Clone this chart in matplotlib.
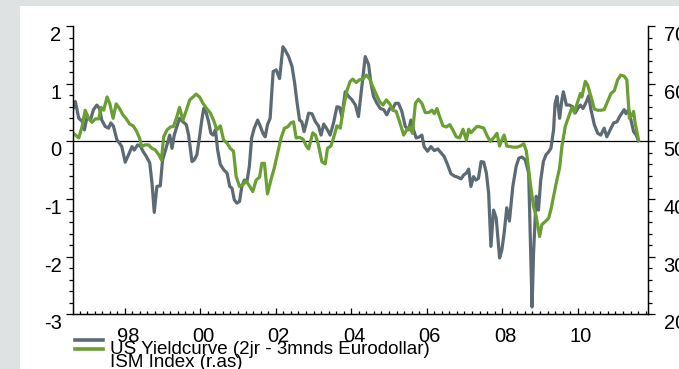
import matplotlib
matplotlib.use("Agg")
import matplotlib.pyplot as plt
from matplotlib.lines import Line2D
from matplotlib.patches import Rectangle
from matplotlib.ticker import MultipleLocator
import matplotlib.transforms as mtransforms

# US yield curve (2jr - 3mnds eurodollar), time in decimal years
yc_t = [1996.63, 1996.69, 1996.78, 1996.87, 1996.93, 1997.00, 1997.09, 1997.17, 1997.26, 1997.33,
        1997.39, 1997.48, 1997.57, 1997.63, 1997.70, 1997.79, 1997.86, 1997.92, 1998.01, 1998.10,
        1998.19, 1998.25, 1998.34, 1998.41, 1998.48, 1998.57, 1998.66, 1998.72, 1998.78, 1998.85,
        1998.94, 1999.00, 1999.07, 1999.13, 1999.19, 1999.25, 1999.31, 1999.38, 1999.45, 1999.54,
        1999.63, 1999.69, 1999.78, 1999.84, 1999.91, 1999.98, 2000.04, 2000.09, 2000.16, 2000.22,
        2000.28, 2000.34, 2000.40, 2000.46, 2000.53, 2000.62, 2000.71, 2000.78, 2000.84, 2000.90,
        2000.97, 2001.04, 2001.10, 2001.17, 2001.24, 2001.30, 2001.36, 2001.43, 2001.52, 2001.59,
        2001.66, 2001.72, 2001.78, 2001.85, 2001.93, 2002.01, 2002.10, 2002.19, 2002.25, 2002.34,
        2002.43, 2002.50, 2002.56, 2002.63, 2002.69, 2002.75, 2002.81, 2002.87, 2002.96, 2003.05,
        2003.13, 2003.20, 2003.27, 2003.36, 2003.44, 2003.53, 2003.62, 2003.69, 2003.75, 2003.84,
        2003.93, 2004.02, 2004.11, 2004.19, 2004.28, 2004.37, 2004.46, 2004.52, 2004.59, 2004.68,
        2004.77, 2004.86, 2004.94, 2005.02, 2005.10, 2005.17, 2005.25, 2005.34, 2005.43, 2005.52,
        2005.58, 2005.65, 2005.72, 2005.81, 2005.87, 2005.93, 2006.02, 2006.11, 2006.20, 2006.29,
        2006.38, 2006.46, 2006.55, 2006.64, 2006.73, 2006.82, 2006.91, 2006.98, 2007.05, 2007.11,
        2007.17, 2007.24, 2007.30, 2007.37, 2007.44, 2007.51, 2007.58, 2007.64, 2007.70, 2007.77,
        2007.84, 2007.93, 2007.99, 2008.05, 2008.12, 2008.19, 2008.28, 2008.37, 2008.44, 2008.52,
        2008.61, 2008.70, 2008.74, 2008.79, 2008.83, 2008.90, 2008.96, 2009.02, 2009.09, 2009.16,
        2009.23, 2009.29, 2009.36, 2009.40, 2009.45, 2009.52, 2009.58, 2009.62, 2009.70, 2009.78,
        2009.87, 2009.93, 2010.00, 2010.07, 2010.14, 2010.23, 2010.29, 2010.35, 2010.44, 2010.53,
        2010.61, 2010.70, 2010.77, 2010.86, 2010.95, 2011.04, 2011.11, 2011.17, 2011.23, 2011.28,
        2011.35, 2011.41, 2011.48, 2011.55, 2011.61]
yc_v = [0.57, 0.69, 0.40, 0.35, 0.20, 0.43, 0.37, 0.55, 0.63, 0.57,
        0.37, 0.26, 0.23, 0.32, 0.26, 0.03, -0.03, -0.09, -0.36, -0.23,
        -0.09, -0.15, -0.06, -0.08, -0.17, -0.26, -0.37, -0.72, -1.23, -0.78,
        -0.77, -0.32, -0.17, -0.03, 0.11, -0.12, 0.11, 0.26, 0.40, 0.34,
        0.29, 0.11, -0.35, -0.32, -0.23, 0.08, 0.37, 0.57, 0.49, 0.34,
        0.14, 0.11, 0.20, -0.15, -0.40, -0.49, -0.55, -0.78, -0.81, -1.01,
        -1.07, -1.04, -0.78, -0.67, -0.68, -0.43, 0.06, 0.23, 0.37, 0.26,
        0.14, 0.08, 0.29, 0.40, 1.21, 1.24, 1.09, 1.64, 1.58, 1.47,
        1.30, 1.01, 0.69, 0.37, 0.34, 0.17, 0.32, 0.49, 0.48, 0.34,
        0.27, 0.11, 0.30, 0.21, 0.11, 0.32, 0.60, 0.59, 0.43, 0.86,
        0.78, 0.72, 0.63, 0.43, 0.95, 1.47, 1.33, 1.01, 0.78, 0.66,
        0.57, 0.55, 0.46, 0.57, 0.57, 0.66, 0.66, 0.52, 0.26, 0.20,
        0.37, 0.20, 0.06, 0.08, 0.11, -0.09, -0.17, -0.09, -0.16, -0.13,
        -0.20, -0.26, -0.40, -0.56, -0.60, -0.62, -0.65, -0.58, -0.55, -0.48,
        -0.78, -0.61, -0.67, -0.64, -0.35, -0.36, -0.55, -0.90, -1.82, -1.19,
        -1.33, -2.02, -1.88, -1.59, -1.15, -1.38, -0.78, -0.43, -0.29, -0.27,
        -0.32, -0.55, -1.59, -2.87, -1.93, -0.95, -1.19, -0.67, -0.35, -0.23,
        -0.18, -0.12, 0.20, 0.66, 0.78, 0.40, 0.72, 0.86, 0.63, 0.63,
        0.60, 0.49, 0.57, 0.63, 0.57, 0.69, 0.79, 0.55, 0.29, 0.14,
        0.11, 0.23, 0.08, 0.20, 0.32, 0.34, 0.43, 0.49, 0.55, 0.48,
        0.55, 0.37, 0.17, 0.11, 0.01]

# ISM index (right axis)
ism_t = [1996.63, 1996.71, 1996.78, 1996.87, 1996.95, 1997.04, 1997.13, 1997.22, 1997.31, 1997.37,
         1997.44, 1997.53, 1997.60, 1997.69, 1997.77, 1997.86, 1997.95, 1998.04, 1998.13, 1998.22,
         1998.30, 1998.39, 1998.45, 1998.54, 1998.63, 1998.72, 1998.81, 1998.90, 1998.97, 1999.03,
         1999.12, 1999.21, 1999.29, 1999.38, 1999.45, 1999.54, 1999.63, 1999.72, 1999.81, 1999.89,
         1999.98, 2000.07, 2000.18, 2000.26, 2000.35, 2000.44, 2000.53, 2000.62, 2000.71, 2000.79,
         2000.88, 2000.95, 2001.04, 2001.13, 2001.22, 2001.31, 2001.39, 2001.48, 2001.57, 2001.63,
         2001.70, 2001.78, 2001.87, 2001.96, 2002.05, 2002.14, 2002.23, 2002.31, 2002.40, 2002.47,
         2002.54, 2002.63, 2002.72, 2002.81, 2002.87, 2002.98, 2003.05, 2003.13, 2003.22, 2003.31,
         2003.37, 2003.46, 2003.53, 2003.62, 2003.71, 2003.80, 2003.89, 2003.97, 2004.04, 2004.13,
         2004.22, 2004.31, 2004.40, 2004.49, 2004.57, 2004.66, 2004.75, 2004.84, 2004.93, 2005.02,
         2005.10, 2005.19, 2005.28, 2005.39, 2005.47, 2005.55, 2005.62, 2005.70, 2005.78, 2005.87,
         2005.96, 2006.05, 2006.14, 2006.20, 2006.27, 2006.34, 2006.43, 2006.52, 2006.61, 2006.69,
         2006.78, 2006.87, 2006.96, 2007.05, 2007.11, 2007.17, 2007.24, 2007.33, 2007.42, 2007.51,
         2007.59, 2007.68, 2007.77, 2007.86, 2007.93, 2007.99, 2008.05, 2008.12, 2008.21, 2008.30,
         2008.39, 2008.48, 2008.57, 2008.64, 2008.70, 2008.76, 2008.83, 2008.90, 2008.99, 2009.05,
         2009.14, 2009.23, 2009.29, 2009.36, 2009.45, 2009.52, 2009.58, 2009.67, 2009.76, 2009.85,
         2009.91, 2010.00, 2010.07, 2010.11, 2010.20, 2010.26, 2010.35, 2010.44, 2010.53, 2010.61,
         2010.70, 2010.79, 2010.88, 2010.97, 2011.06, 2011.14, 2011.23, 2011.30, 2011.37, 2011.44,
         2011.48, 2011.52, 2011.61]
ism_v = [51.5, 51.0, 50.6, 52.6, 55.4, 54.0, 53.3, 53.9, 53.9, 55.9,
         55.4, 57.7, 56.6, 54.0, 56.5, 55.7, 54.6, 53.9, 53.0, 52.7,
         51.9, 50.6, 49.1, 49.4, 49.4, 48.8, 48.5, 47.7, 46.8, 50.8,
         52.0, 52.5, 52.6, 54.3, 55.9, 53.7, 55.4, 57.2, 57.7, 58.2,
         57.7, 56.6, 55.6, 55.0, 53.7, 52.0, 52.7, 50.2, 49.7, 48.8,
         48.3, 43.9, 42.2, 42.5, 43.1, 42.2, 41.3, 43.3, 43.8, 46.2,
         46.2, 40.9, 43.3, 45.4, 48.0, 50.6, 52.3, 52.5, 53.2, 53.4,
         50.6, 50.7, 50.4, 49.2, 48.7, 51.5, 51.1, 49.4, 46.5, 46.1,
         48.8, 49.2, 50.6, 52.7, 52.3, 56.1, 58.9, 60.4, 60.8, 60.2,
         60.7, 60.8, 61.5, 60.8, 59.5, 58.2, 56.9, 56.3, 57.2, 56.5,
         55.4, 55.2, 53.4, 51.1, 52.0, 52.5, 51.4, 56.6, 57.3, 56.6,
         55.0, 55.0, 55.4, 54.8, 55.7, 54.3, 52.7, 52.5, 52.9, 52.0,
         50.8, 50.6, 52.1, 50.2, 52.1, 51.5, 52.0, 52.6, 52.5, 52.3,
         51.1, 50.0, 50.6, 51.4, 49.2, 50.3, 51.1, 49.2, 49.1, 49.0,
         49.0, 49.2, 49.6, 48.3, 45.1, 41.9, 38.7, 37.0, 33.5, 35.6,
         36.1, 36.7, 38.2, 40.5, 43.4, 45.4, 49.1, 52.6, 54.3, 55.9,
         55.0, 56.9, 58.3, 57.7, 60.4, 59.8, 57.8, 55.6, 55.4, 55.4,
         55.5, 56.9, 58.3, 58.8, 60.7, 61.5, 61.3, 60.7, 54.0, 54.6,
         55.2, 53.2, 50.3]

year_ticks = [1998, 2000, 2002, 2004, 2006, 2008, 2010]
year_labels = ['98', '00', '02', '04', '06', '08', '10']
left_ticks = [-3, -2, -1, 0, 1, 2]
right_ticks = [20, 30, 40, 50, 60, 70]
series_names = ['US Yieldcurve (2jr - 3mnds Eurodollar)', 'ISM Index (r.as)']

c_gray = '#5b6a73'
c_green = '#6a9f32'
fs = 14.5

plt.rcParams['font.family'] = ['Liberation Sans', 'DejaVu Sans']
plt.rcParams['axes.unicode_minus'] = False  # plain hyphen like the original

fig = plt.figure(figsize=(6.79, 3.69), dpi=100)
fig.patch.set_facecolor('#dfe2e3')
# white panel, gray strip on the left and top
fig.add_artist(Rectangle((20 / 679, 0), 1 - 20 / 679, 363 / 369,
                         transform=fig.transFigure, facecolor='white', edgecolor='none', zorder=0))

ax = fig.add_axes([0.1071, 0.1477, 0.9548 - 0.1071, 0.9295 - 0.1477])
ax.set_facecolor('none')
ax2 = ax.twinx()

ax.axhline(0, color='black', lw=0.9, zorder=1)
ax.plot(yc_t, yc_v, color=c_gray, lw=2.3, zorder=2, solid_joinstyle='round')
ax2.plot(ism_t, ism_v, color=c_green, lw=2.3, zorder=2, solid_joinstyle='round')

ax.set_xlim(1996.62, 2011.87)
ax.set_ylim(-3, 2)
ax2.set_ylim(20, 70)

for a in (ax, ax2):
    a.spines['top'].set_visible(False)
    for s in a.spines.values():
        s.set_linewidth(0.9)

# y axes: outward ticks, labels hang below the tick
ax.set_yticks(left_ticks)
ax.yaxis.set_minor_locator(MultipleLocator(0.2))
ax.tick_params(axis='y', which='major', direction='out', length=5, width=0.9, pad=3, labelsize=fs)
ax.tick_params(axis='y', which='minor', direction='out', length=3, width=0.9)
ax2.set_yticks(right_ticks)
ax2.yaxis.set_minor_locator(MultipleLocator(2))
ax2.tick_params(axis='y', which='major', direction='out', length=5, width=0.9, pad=6, labelsize=fs)
ax2.tick_params(axis='y', which='minor', direction='out', length=3, width=0.9)
for lab in ax.get_yticklabels() + ax2.get_yticklabels():
    lab.set_verticalalignment('top')

# x axis: inward ticks
ax.set_xticks(year_ticks, year_labels)
ax.xaxis.set_minor_locator(MultipleLocator(0.2))
ax.tick_params(axis='x', which='major', direction='in', length=4, width=0.9, pad=9, labelsize=fs)
ax.tick_params(axis='x', which='minor', direction='in', length=2.5, width=0.9)
shift = mtransforms.ScaledTranslation(3 / 100, 0, fig.dpi_scale_trans)
for lab in ax.get_xticklabels():
    lab.set_transform(lab.get_transform() + shift)

# legend drawn by hand, rows overlap like the original
fig.add_artist(Line2D([75 / 679, 103 / 679], [1 - 339.5 / 369] * 2, color=c_gray, lw=2.6,
                      transform=fig.transFigure))
fig.add_artist(Line2D([75 / 679, 103 / 679], [1 - 349 / 369] * 2, color=c_green, lw=2.6,
                      transform=fig.transFigure))
fig.text(110 / 679, 1 - 354 / 369, series_names[0], fontsize=13.5, va='baseline', ha='left')
fig.text(110 / 679, 1 - 367 / 369, series_names[1], fontsize=13.5, va='baseline', ha='left')

fig.savefig('out.png', dpi=100, facecolor=fig.get_facecolor())
